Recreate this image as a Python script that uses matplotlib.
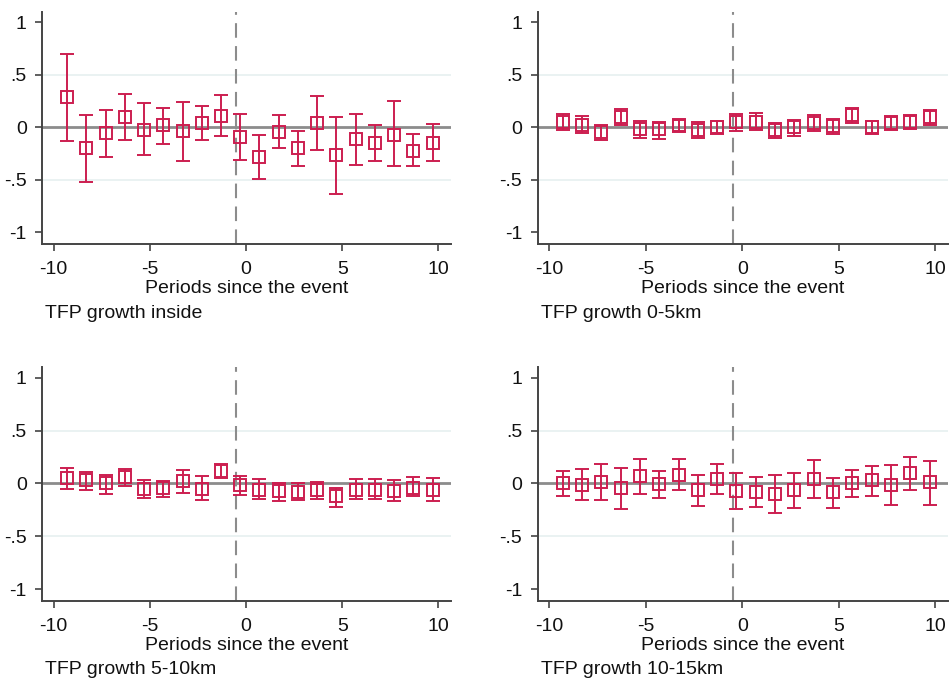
import matplotlib
matplotlib.use("Agg")
import matplotlib.pyplot as plt

plt.rcParams['font.family'] = ['Liberation Sans', 'DejaVu Sans']

periods = [-9, -8, -7, -6, -5, -4, -3, -2, -1, 0, 1, 2, 3, 4, 5, 6, 7, 8, 9, 10]

titles = ['TFP growth inside', 'TFP growth 0-5km', 'TFP growth 5-10km', 'TFP growth 10-15km']

# point estimates and confidence bounds
inside_est = [0.29, -0.20, -0.05, 0.10, -0.02, 0.02, -0.03, 0.04, 0.11, -0.09,
              -0.28, -0.04, -0.20, 0.04, -0.26, -0.11, -0.15, -0.07, -0.22, -0.15]
inside_hi = [0.70, 0.12, 0.17, 0.32, 0.23, 0.19, 0.24, 0.20, 0.31, 0.13,
             -0.07, 0.12, -0.03, 0.30, 0.10, 0.13, 0.02, 0.25, -0.06, 0.03]
inside_lo = [-0.13, -0.52, -0.28, -0.12, -0.26, -0.16, -0.32, -0.12, -0.08, -0.31,
             -0.49, -0.20, -0.37, -0.21, -0.63, -0.36, -0.32, -0.37, -0.37, -0.32]

km0_5_est = [0.055, 0.025, -0.045, 0.10, -0.015, -0.015, 0.02, -0.02, 0.0, 0.05,
             0.055, -0.02, 0.0, 0.045, 0.015, 0.115, 0.0, 0.04, 0.055, 0.10]
km0_5_hi = [0.13, 0.11, 0.025, 0.18, 0.065, 0.05, 0.075, 0.05, 0.06, 0.13,
            0.14, 0.045, 0.075, 0.12, 0.08, 0.19, 0.065, 0.11, 0.12, 0.17]
km0_5_lo = [-0.02, -0.05, -0.12, 0.025, -0.10, -0.11, -0.045, -0.10, -0.06, -0.03,
            -0.02, -0.10, -0.085, -0.035, -0.06, 0.045, -0.065, -0.02, -0.01, 0.025]

km5_10_est = [0.055, 0.03, 0.0, 0.06, -0.055, -0.045, 0.025, -0.055, 0.115, -0.01,
              -0.057, -0.07, -0.08, -0.057, -0.12, -0.057, -0.057, -0.07, -0.04, -0.057]
km5_10_hi = [0.15, 0.11, 0.08, 0.14, 0.03, 0.025, 0.13, 0.07, 0.18, 0.07,
             0.04, 0.0, 0.0, 0.016, -0.04, 0.04, 0.04, 0.03, 0.063, 0.048]
km5_10_lo = [-0.05, -0.057, -0.095, -0.025, -0.14, -0.13, -0.09, -0.16, 0.048, -0.11,
             -0.15, -0.165, -0.16, -0.15, -0.22, -0.15, -0.15, -0.17, -0.12, -0.17]

km10_15_est = [0.0, -0.01, 0.015, -0.04, 0.07, -0.005, 0.08, -0.06, 0.045, -0.07,
               -0.08, -0.095, -0.06, 0.045, -0.085, 0.0, 0.03, -0.01, 0.095, 0.01]
km10_15_hi = [0.12, 0.14, 0.18, 0.15, 0.23, 0.12, 0.23, 0.08, 0.18, 0.095,
              0.057, 0.08, 0.10, 0.22, 0.048, 0.125, 0.165, 0.175, 0.25, 0.21]
km10_15_lo = [-0.12, -0.16, -0.16, -0.24, -0.095, -0.14, -0.065, -0.21, -0.095, -0.24,
              -0.22, -0.28, -0.23, -0.14, -0.23, -0.125, -0.12, -0.20, -0.065, -0.20]

panels = [
    (inside_est, inside_lo, inside_hi),
    (km0_5_est, km0_5_lo, km0_5_hi),
    (km5_10_est, km5_10_lo, km5_10_hi),
    (km10_15_est, km10_15_lo, km10_15_hi),
]

red = '#CC1E50'
W, H = 952, 684
fig = plt.figure(figsize=(W / 100, H / 100), dpi=100)

# axes boxes in pixels: left, top, right, bottom
boxes = [(42, 12, 451, 244), (537.5, 12, 948, 244),
         (42, 367, 451, 601), (537.5, 367, 948, 601)]
note_pos = [(45, 313), (541, 313), (45, 670), (541, 670)]

shift = -0.3
for i, (est, lo, hi) in enumerate(panels):
    l, t, r, b = boxes[i]
    ax = fig.add_axes([l / W, (H - b) / H, (r - l) / W, (b - t) / H])
    x = [p + shift for p in periods]
    yerr = [[e - a for e, a in zip(est, lo)], [a - e for e, a in zip(est, hi)]]
    for g in [0.5, -0.5]:
        ax.axhline(g, color='#E6F0F0', lw=1.2, zorder=0)
    ax.axhline(0, color='#8C8C8C', lw=2.0, zorder=1)
    ax.axvline(-0.5, color='#8C8C8C', lw=1.5, ls=(0, (7, 4)), zorder=1)
    ax.errorbar(x, est, yerr=yerr, fmt='none', ecolor=red, elinewidth=1.4,
                capsize=5, capthick=1.4, zorder=3)
    ax.plot(x, est, ls='none', marker='s', ms=8.5, mfc='none', mec=red,
            mew=1.4, zorder=4)
    ax.set_xlim(-10.6, 10.65)
    ax.set_ylim(-1.11, 1.1)
    ax.set_xticks([-10, -5, 0, 5, 10])
    ax.set_xticklabels(['-10', '-5', '0', '5', '10'])
    ax.set_yticks([1, 0.5, 0, -0.5, -1])
    ax.set_yticklabels(['1', '.5', '0', '-.5', '-1'])
    ax.tick_params(direction='out', length=5, width=1.2, color='#444444',
                   labelsize=14, labelcolor='#111111')
    ax.tick_params(axis='x', pad=7)
    ax.tick_params(axis='y', pad=6)
    for s in ['top', 'right']:
        ax.spines[s].set_visible(False)
    for s in ['left', 'bottom']:
        ax.spines[s].set_color('#444444')
        ax.spines[s].set_linewidth(1.4)
    ax.set_xlabel('Periods since the event', fontsize=14, labelpad=2,
                  color='#111111')
    nx, ny = note_pos[i]
    fig.text(nx / W, (H - ny) / H, titles[i], fontsize=14, color='#111111',
             ha='left', va='center')

fig.savefig('out.png', dpi=100, facecolor='white')
